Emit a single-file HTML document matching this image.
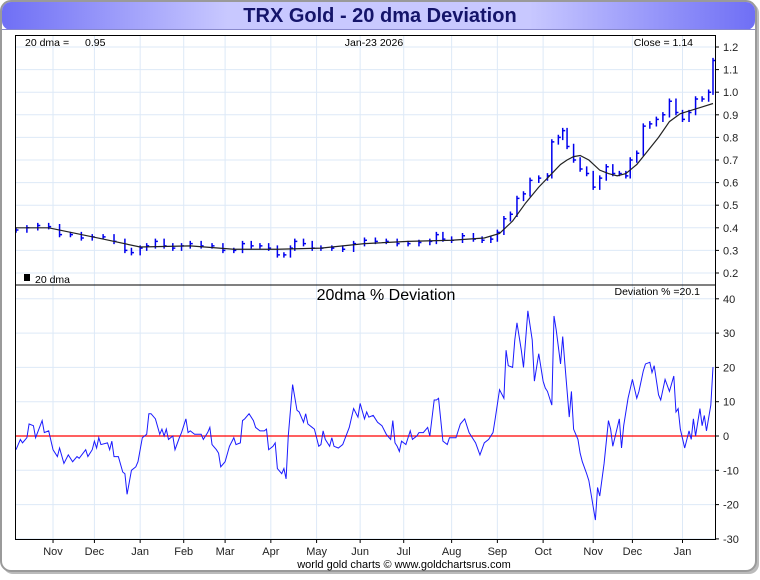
<!DOCTYPE html>
<html><head><meta charset="utf-8"><style>
body{margin:0;width:760px;height:575px;overflow:hidden;background:#fff;font-family:"Liberation Sans",sans-serif}
</style></head><body>
<svg id="c" width="760" height="575" viewBox="0 0 760 575" xmlns="http://www.w3.org/2000/svg">
<defs>
<linearGradient id="tg" x1="0" x2="1" y1="0" y2="0">
<stop offset="0" stop-color="#6f6ff5"/><stop offset="0.3" stop-color="#c8c8ff"/><stop offset="0.7" stop-color="#c8c8ff"/><stop offset="1" stop-color="#6f6ff5"/>
</linearGradient>
</defs>
<rect x="3" y="3" width="756" height="571" rx="10" fill="#bbb"/>
<rect x="1" y="1" width="755" height="570" rx="10" fill="#fff" stroke="#9a9a9a" stroke-width="2"/>
<rect x="2" y="2" width="753" height="28" rx="9" fill="url(#tg)"/>
<line x1="2" y1="29.5" x2="755" y2="29.5" stroke="#8888cc"/>
<text x="380" y="22" text-anchor="middle" font-size="20" font-weight="bold" fill="#14146a">TRX Gold - 20 dma Deviation</text>
<g id="grid"></g>
<g id="marks"></g>
<rect x="15.5" y="35.5" width="700" height="504" fill="none" stroke="#000"/>
<line x1="15" y1="285" x2="715" y2="285" stroke="#000"/>
<g id="axes" font-size="11" fill="#222"></g>
<text x="25" y="46" font-size="10.5">20 dma =</text>
<text x="85" y="46" font-size="10.5">0.95</text>
<text x="374" y="46" text-anchor="middle" font-size="10.5">Jan-23  2026</text>
<text x="693" y="46" text-anchor="end" font-size="10.5">Close = 1.14</text>
<rect x="24" y="274" width="6" height="7" fill="#000"/>
<text x="35" y="283" font-size="10.5">20 dma</text>
<text x="386" y="300" text-anchor="middle" font-size="16">20dma  %  Deviation</text>
<text x="700" y="295" text-anchor="end" font-size="10.5">Deviation % =20.1</text>
<text x="404" y="568" text-anchor="middle" font-size="11">world gold charts © www.goldchartsrus.com</text>
</svg>
<script>
const monthLabels=["Nov","Dec","Jan","Feb","Mar","Apr","May","Jun","Jul","Aug","Sep","Oct","Nov","Dec","Jan"];
const monthDays=[17,36,57,77,96,117,138,158,178,200,221,242,265,283,306];
const priceTicks=[0.2,0.3,0.4,0.5,0.6,0.7,0.8,0.9,1.0,1.1,1.2];
const devTicks=[-30,-20,-10,0,10,20,30,40];
const closeDays=[0,5,10,15,20,25,30,35,40,45,50,53,57,60,64,68,72,76,80,85,90,95,100,104,108,112,116,120,123,126,128,132,136,140,145,150,155,160,165,170,175,180,185,190,193,196,200,205,210,214,218,221,224,227,230,233,236,240,244,246,249,251,253,256,259,262,265,268,271,274,277,280,282,285,288,291,294,297,300,303,306,309,312,315,318,320];
const closeVals=[0.39,0.40,0.41,0.405,0.37,0.37,0.355,0.36,0.36,0.34,0.30,0.29,0.31,0.32,0.34,0.32,0.31,0.32,0.33,0.32,0.32,0.30,0.30,0.33,0.32,0.32,0.31,0.28,0.28,0.31,0.34,0.33,0.31,0.31,0.31,0.305,0.33,0.345,0.34,0.34,0.33,0.33,0.335,0.34,0.37,0.35,0.345,0.365,0.35,0.345,0.35,0.38,0.44,0.46,0.53,0.55,0.61,0.62,0.63,0.78,0.80,0.83,0.76,0.70,0.66,0.64,0.58,0.62,0.67,0.64,0.64,0.63,0.70,0.73,0.85,0.86,0.88,0.90,0.96,0.91,0.88,0.91,0.97,0.97,1.00,1.14];
const dmaDays=[0,15,25,40,57,80,100,120,140,160,180,200,215,222,228,234,240,246,250,253,256,259,263,268,272,276,280,285,290,295,300,305,310,315,320];
const dmaVals=[0.40,0.40,0.38,0.35,0.315,0.32,0.305,0.305,0.31,0.33,0.34,0.345,0.355,0.375,0.43,0.51,0.58,0.64,0.68,0.70,0.715,0.72,0.70,0.655,0.64,0.63,0.64,0.68,0.74,0.80,0.87,0.905,0.92,0.935,0.95];
const devDays=[0,2,3,5,6,8,9,12,13,15,17,19,20,22,24,26,28,29,32,33,35,36,37,38,39,42,43,44,45,47,49,50,51,53,55,56,58,59,60,61,62,64,66,67,68,69,70,72,73,75,76,78,79,80,82,84,85,86,88,89,90,92,93,94,96,98,100,101,103,104,105,107,109,110,112,114,115,116,118,119,120,122,123,124,125,127,129,130,132,133,134,136,137,139,140,141,142,144,145,146,148,150,153,155,157,158,160,161,162,164,166,168,170,172,173,174,175,176,177,179,181,182,184,185,187,189,190,192,193,194,196,198,199,202,204,206,208,209,211,213,215,217,219,220,222,224,225,226,228,229,230,232,233,235,237,238,240,242,243,244,246,247,248,250,251,252,254,255,256,258,259,260,262,263,266,267,268,270,272,273,274,277,278,279,281,283,285,286,288,289,291,292,293,295,296,298,300,302,303,304,305,307,309,310,311,312,314,315,316,317,319,320];
const devVals=[-4,-1,-2,-0.5,3.5,3,-0.5,4.5,1,1.5,-4,-6,-3.5,-8,-5.5,-7.5,-6,-6.5,-4,-6,-4,-1.5,-3.5,-0.5,-2.5,-2,-4,-1.5,-6,-6,-10.5,-11,-17,-10,-9,-7.5,-0.5,0,0.5,6.5,6.5,5,0.5,2,0,2,-1,0,-4,-0.5,1,5,1,1.5,0.5,0.5,0.5,-1,1,2.5,-2.5,-4,-5,-9,-7.5,-3,-0.5,-2.5,-2,4.5,5,6.5,4.5,2.5,1.5,1.5,2,-4,-3,-2,-9.5,-11,-9.5,-12.5,0,15,7.5,7,4,6.5,3.5,2.5,2,-3,-2.5,1.5,-1,-3,-0.5,-3,-3.5,-2.5,2.5,8,5.5,9.5,5,7,5.5,6,4,3,0.5,-1,4.5,-2,-3,-4.5,-1.5,-2.5,1.5,-1,0,1,1,2.5,0,10.5,10.5,11,-1.5,-2.5,-0.5,-0.5,3.5,5,1,0,-2,-5.5,-2,-1,1,5,13.5,11,25,20.5,20,28,33,25,20,36.5,28,16,24,16,14,13,9,35,31,21,29,21,5.5,13,2,-1,-5,-7.5,-11,-13,-24.5,-15,-17.5,-8,4.5,2,-3,5,-3.5,3,11,16.5,11,13,19,21,21.5,18.5,20.5,12,10.5,16.5,13,17.5,7,8,2,-3.5,1.5,-1,5,0,8,3,6,1.5,9,20.1];

const NS='http://www.w3.org/2000/svg';
const X0=16,X1=713,DMAX=320;
const xs=d=>X0+(X1-X0)*d/DMAX;
const yP=p=>47+(1.2-p)*226;
const yD=v=>436-v*3.43;
function mk(tag,attrs,parent){const e=document.createElementNS(NS,tag);for(const k in attrs)e.setAttribute(k,attrs[k]);document.getElementById(parent).appendChild(e);return e;}

monthDays.forEach((d,i)=>{
  const g=mk('line',{x1:xs(d),x2:xs(d),y1:36,y2:539,stroke:'#dde9f7'},'grid');
  
  
  const t=mk('line',{x1:xs(d),x2:xs(d),y1:539,y2:543,stroke:'#000'},'axes');
  
  
  const l=mk('text',{x:xs(d),y:555,'text-anchor':'middle'},'axes');
  l.textContent=monthLabels[i];
  
  
});
priceTicks.forEach(p=>{
  const g=mk('line',{x1:16,x2:715,y1:yP(p),y2:yP(p),stroke:'#dde9f7'},'grid');
  
  
  const t=mk('line',{x1:715,x2:719,y1:yP(p),y2:yP(p),stroke:'#000'},'axes');
  
  
  const l=mk('text',{x:723,y:yP(p)+4},'axes');
  l.textContent=p.toFixed(1);
  
  
});
devTicks.forEach(v=>{
  const g=mk('line',{x1:16,x2:715,y1:yD(v),y2:yD(v),stroke:'#dde9f7'},'grid');
  
  
  const t=mk('line',{x1:715,x2:719,y1:yD(v),y2:yD(v),stroke:'#000'},'axes');
  
  
  const l=mk('text',{x:723,y:yD(v)+4},'axes');
  l.textContent=String(v);
  
  
});
let bp='';
closeDays.forEach((d,i)=>{
  const c=closeVals[i],prev=i?closeVals[i-1]:c;
  const hi=Math.max(c,prev)+0.012,lo=Math.min(c,prev)-0.012;
  const x=xs(d);
  bp+=`M${x} ${yP(hi)}V${yP(lo)}M${x} ${yP(c)}h2.5`;
});
const bars=mk('path',{d:bp,stroke:'#0000ee','stroke-width':1.5,fill:'none'},'marks');


const dma=mk('polyline',{points:dmaDays.map((d,i)=>xs(d)+','+yP(dmaVals[i])).join(' '),stroke:'#222','stroke-width':1.2,fill:'none'},'marks');


const zero=mk('line',{x1:16,x2:715,y1:yD(0),y2:yD(0),stroke:'#ff0000','stroke-width':1.3},'marks');


const dev=mk('polyline',{points:devDays.map((d,i)=>xs(d)+','+yD(devVals[i])).join(' '),stroke:'#1a1aff','stroke-width':1,fill:'none'},'marks');


</script>
</body></html>
